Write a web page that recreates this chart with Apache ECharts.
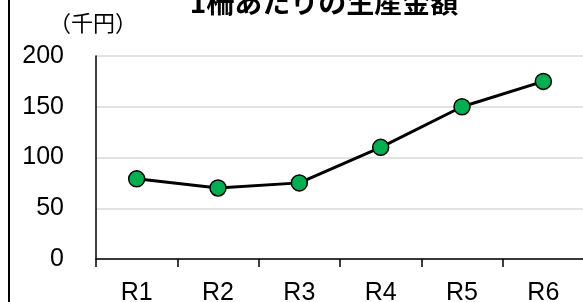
<!DOCTYPE html>
<html>
<head>
<meta charset="utf-8">
<script src="https://cdn.jsdelivr.net/npm/echarts@6/dist/echarts.min.js"></script>
<style>
  html, body { margin: 0; padding: 0; background: #fff; }
  #chart { width: 583px; height: 302px; }
</style>
</head>
<body>
<div id="chart"></div>
<script>
  // 1柵あたりの生産金額（千円）
  const categories = ['R1', 'R2', 'R3', 'R4', 'R5', 'R6']
  const amounts = [79, 70, 75, 110, 150, 175]
  const yTicks = [0, 50, 100, 150, 200]

  const FONT = '"Liberation Sans", Arial, "Noto Sans CJK JP", sans-serif'
  const CJK = '"Noto Sans CJK JP", sans-serif'

  const chart = echarts.init(document.getElementById('chart'), null, {renderer: 'canvas'})
  chart.setOption({
    animation: false,
    graphic: [
      {
        // 見出し（上端が切れている）
        type: 'text',
        x: 324,
        y: 2,
        style: {
          text: '1柵あたりの生産金額',
          font: 'bold 28px ' + CJK,
          fill: '#000',
          textAlign: 'center',
          textVerticalAlign: 'middle'
        }
      },
      {
        type: 'text',
        x: 49,
        y: 23,
        style: {
          text: '（千円）',
          font: '22px ' + CJK,
          fill: '#000',
          textVerticalAlign: 'middle'
        }
      },
      {
        type: 'line',
        shape: {x1: 9, y1: 0, x2: 9, y2: 302},
        style: {stroke: '#000', lineWidth: 2}
      }
    ],
    grid: {
      left: 96,
      top: 56,
      width: 488,
      height: 203,
      containLabel: false,
      outerBoundsMode: 'none'
    },
    xAxis: {
      type: 'category',
      data: categories,
      boundaryGap: true,
      axisLine: {lineStyle: {color: '#000', width: 1.5}},
      axisTick: {show: true, length: 8, lineStyle: {color: '#000', width: 1.5}},
      axisLabel: {
        color: '#000',
        fontFamily: FONT,
        fontSize: 25,
        margin: 22
      }
    },
    yAxis: {
      type: 'value',
      min: yTicks[0],
      max: yTicks[yTicks.length - 1],
      interval: 50,
      axisLine: {show: true, lineStyle: {color: '#000', width: 1.5}},
      axisTick: {show: false},
      splitLine: {lineStyle: {color: '#d9d9d9', width: 1.5}},
      axisLabel: {
        color: '#000',
        fontFamily: FONT,
        fontSize: 25,
        margin: 32
      }
    },
    series: [
      {
        type: 'line',
        data: amounts,
        symbol: 'circle',
        symbolSize: 16,
        lineStyle: {color: '#000', width: 3},
        itemStyle: {color: '#00b050', borderColor: '#000', borderWidth: 1.5}
      }
    ]
  })
</script>
</body>
</html>
